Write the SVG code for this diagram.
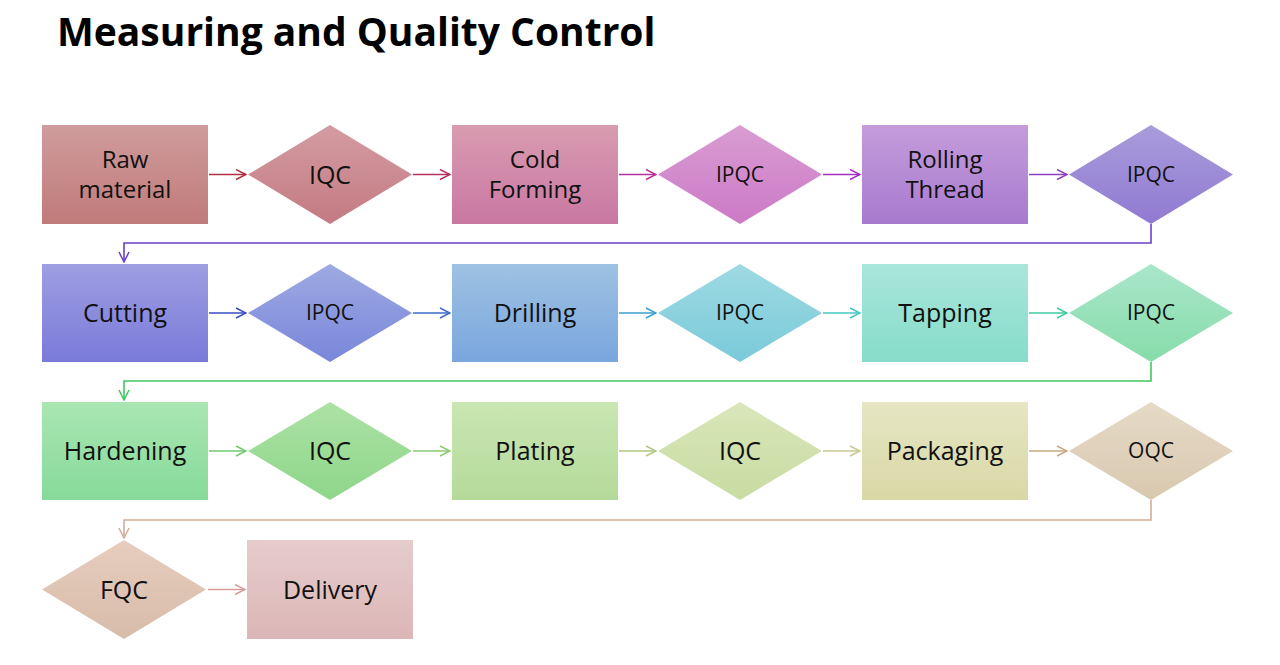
<svg xmlns="http://www.w3.org/2000/svg" width="1280" height="665" viewBox="0 0 1280 665">
<style>
text{font-family:"Open Sans","Noto Sans",sans-serif;fill:#111;text-anchor:middle;dominant-baseline:central}
.b{font-size:25px}.t{font-size:24px}.s{font-size:21px}
.c{fill:none;stroke-width:1.6}
</style>
<defs>
<marker id="m" viewBox="0 0 12 12" refX="11" refY="6" markerWidth="12" markerHeight="12" markerUnits="userSpaceOnUse" orient="auto"><path d="M1 1L11 6L1 11" fill="none" stroke="context-stroke" stroke-width="1.5"/></marker>
<linearGradient id="g1" x1="0" y1="0" x2="0" y2="1"><stop offset="0" stop-color="#d09c9c"/><stop offset="1" stop-color="#c07a7a"/></linearGradient>
<linearGradient id="g2" x1="0" y1="0" x2="0" y2="1"><stop offset="0" stop-color="#d39ca2"/><stop offset="1" stop-color="#c47a82"/></linearGradient>
<linearGradient id="g3" x1="0" y1="0" x2="0" y2="1"><stop offset="0" stop-color="#d99cb0"/><stop offset="1" stop-color="#c977a2"/></linearGradient>
<linearGradient id="g4" x1="0" y1="0" x2="0" y2="1"><stop offset="0" stop-color="#d99cd2"/><stop offset="1" stop-color="#cc7ac6"/></linearGradient>
<linearGradient id="g5" x1="0" y1="0" x2="0" y2="1"><stop offset="0" stop-color="#c49cdb"/><stop offset="1" stop-color="#a87acf"/></linearGradient>
<linearGradient id="g6" x1="0" y1="0" x2="0" y2="1"><stop offset="0" stop-color="#a99cdb"/><stop offset="1" stop-color="#907ad2"/></linearGradient>
<linearGradient id="g7" x1="0" y1="0" x2="0" y2="1"><stop offset="0" stop-color="#9e9ee2"/><stop offset="1" stop-color="#7a7ada"/></linearGradient>
<linearGradient id="g8" x1="0" y1="0" x2="0" y2="1"><stop offset="0" stop-color="#9eaae2"/><stop offset="1" stop-color="#7a86da"/></linearGradient>
<linearGradient id="g9" x1="0" y1="0" x2="0" y2="1"><stop offset="0" stop-color="#9ec2e2"/><stop offset="1" stop-color="#7aa6de"/></linearGradient>
<linearGradient id="g10" x1="0" y1="0" x2="0" y2="1"><stop offset="0" stop-color="#9edae2"/><stop offset="1" stop-color="#7acada"/></linearGradient>
<linearGradient id="g11" x1="0" y1="0" x2="0" y2="1"><stop offset="0" stop-color="#aae6da"/><stop offset="1" stop-color="#86dcca"/></linearGradient>
<linearGradient id="g12" x1="0" y1="0" x2="0" y2="1"><stop offset="0" stop-color="#aae6ca"/><stop offset="1" stop-color="#86dcaa"/></linearGradient>
<linearGradient id="g13" x1="0" y1="0" x2="0" y2="1"><stop offset="0" stop-color="#aae6b2"/><stop offset="1" stop-color="#86da9a"/></linearGradient>
<linearGradient id="g14" x1="0" y1="0" x2="0" y2="1"><stop offset="0" stop-color="#ace2a4"/><stop offset="1" stop-color="#8ed68a"/></linearGradient>
<linearGradient id="g15" x1="0" y1="0" x2="0" y2="1"><stop offset="0" stop-color="#cae6b2"/><stop offset="1" stop-color="#b4da9a"/></linearGradient>
<linearGradient id="g16" x1="0" y1="0" x2="0" y2="1"><stop offset="0" stop-color="#dae6ba"/><stop offset="1" stop-color="#c8dca2"/></linearGradient>
<linearGradient id="g17" x1="0" y1="0" x2="0" y2="1"><stop offset="0" stop-color="#e6e6c4"/><stop offset="1" stop-color="#d8d8a6"/></linearGradient>
<linearGradient id="g18" x1="0" y1="0" x2="0" y2="1"><stop offset="0" stop-color="#e6dac8"/><stop offset="1" stop-color="#d8c8ae"/></linearGradient>
<linearGradient id="g19" x1="0" y1="0" x2="0" y2="1"><stop offset="0" stop-color="#e6cdbe"/><stop offset="1" stop-color="#d8bcaa"/></linearGradient>
<linearGradient id="g20" x1="0" y1="0" x2="0" y2="1"><stop offset="0" stop-color="#e6cccc"/><stop offset="1" stop-color="#dcb6b6"/></linearGradient>
</defs>
<rect width="1280" height="665" fill="#fff"/>
<text x="57" y="30" style="font-size:39px;font-weight:bold;text-anchor:start;fill:#000">Measuring and Quality Control</text>
<g id="connectors">
<path class="c" stroke="#b03040" d="M209 174.5H246" marker-end="url(#m)"/>
<path class="c" stroke="#b83060" d="M413 174.5H450" marker-end="url(#m)"/>
<path class="c" stroke="#b8309a" d="M619 174.5H656" marker-end="url(#m)"/>
<path class="c" stroke="#a430c0" d="M823 174.5H860" marker-end="url(#m)"/>
<path class="c" stroke="#8f3fc0" d="M1029 174.5H1067" marker-end="url(#m)"/>
<path class="c" stroke="#6a40c8" d="M1151 224V243H124V262" marker-end="url(#m)"/>
<path class="c" stroke="#3a4cc0" d="M209 313H246" marker-end="url(#m)"/>
<path class="c" stroke="#3a6cc8" d="M413 313H450" marker-end="url(#m)"/>
<path class="c" stroke="#3aa0d0" d="M619 313H656" marker-end="url(#m)"/>
<path class="c" stroke="#40c8c0" d="M823 313H860" marker-end="url(#m)"/>
<path class="c" stroke="#40c8a0" d="M1029 313H1067" marker-end="url(#m)"/>
<path class="c" stroke="#40c860" d="M1151 362V381H124V400" marker-end="url(#m)"/>
<path class="c" stroke="#70c870" d="M209 451H246" marker-end="url(#m)"/>
<path class="c" stroke="#8cc870" d="M413 451H450" marker-end="url(#m)"/>
<path class="c" stroke="#b0c880" d="M619 451H656" marker-end="url(#m)"/>
<path class="c" stroke="#c8c890" d="M823 451H860" marker-end="url(#m)"/>
<path class="c" stroke="#c8aa80" d="M1029 451H1067" marker-end="url(#m)"/>
<path class="c" stroke="#d4ac98" d="M1151 500V520H124V538" marker-end="url(#m)"/>
<path class="c" stroke="#d89c9c" d="M208 589.5H245" marker-end="url(#m)"/>
</g>
<g id="n1"><rect x="42" y="125" width="166" height="99" fill="url(#g1)"/><text class="t" x="125" y="158">Raw</text><text class="t" x="125" y="188">material</text></g>
<g id="n2"><polygon points="248,174.5 330,125 412,174.5 330,224" fill="url(#g2)"/><text class="b" x="330" y="173.5">IQC</text></g>
<g id="n3"><rect x="452" y="125" width="166" height="99" fill="url(#g3)"/><text class="t" x="535" y="158">Cold</text><text class="t" x="535" y="188">Forming</text></g>
<g id="n4"><polygon points="658,174.5 740,125 822,174.5 740,224" fill="url(#g4)"/><text class="s" x="740" y="173.5">IPQC</text></g>
<g id="n5"><rect x="862" y="125" width="166" height="99" fill="url(#g5)"/><text class="t" x="945" y="158">Rolling</text><text class="t" x="945" y="188">Thread</text></g>
<g id="n6"><polygon points="1069,174.5 1151,125 1233,174.5 1151,224" fill="url(#g6)"/><text class="s" x="1151" y="173.5">IPQC</text></g>
<g id="n7"><rect x="42" y="264" width="166" height="98" fill="url(#g7)"/><text class="b" x="125" y="312">Cutting</text></g>
<g id="n8"><polygon points="248,313 330,264 412,313 330,362" fill="url(#g8)"/><text class="s" x="330" y="312">IPQC</text></g>
<g id="n9"><rect x="452" y="264" width="166" height="98" fill="url(#g9)"/><text class="b" x="535" y="312">Drilling</text></g>
<g id="n10"><polygon points="658,313 740,264 822,313 740,362" fill="url(#g10)"/><text class="s" x="740" y="312">IPQC</text></g>
<g id="n11"><rect x="862" y="264" width="166" height="98" fill="url(#g11)"/><text class="b" x="945" y="312">Tapping</text></g>
<g id="n12"><polygon points="1069,313 1151,264 1233,313 1151,362" fill="url(#g12)"/><text class="s" x="1151" y="312">IPQC</text></g>
<g id="n13"><rect x="42" y="402" width="166" height="98" fill="url(#g13)"/><text class="b" x="125" y="450">Hardening</text></g>
<g id="n14"><polygon points="248,451 330,402 412,451 330,500" fill="url(#g14)"/><text class="b" x="330" y="450">IQC</text></g>
<g id="n15"><rect x="452" y="402" width="166" height="98" fill="url(#g15)"/><text class="b" x="535" y="450">Plating</text></g>
<g id="n16"><polygon points="658,451 740,402 822,451 740,500" fill="url(#g16)"/><text class="b" x="740" y="450">IQC</text></g>
<g id="n17"><rect x="862" y="402" width="166" height="98" fill="url(#g17)"/><text class="b" x="945" y="450">Packaging</text></g>
<g id="n18"><polygon points="1069,451 1151,402 1233,451 1151,500" fill="url(#g18)"/><text class="s" x="1151" y="450">OQC</text></g>
<g id="n19"><polygon points="42,589.5 124,540 206,589.5 124,639" fill="url(#g19)"/><text class="b" x="124" y="588.5">FQC</text></g>
<g id="n20"><rect x="247" y="540" width="166" height="99" fill="url(#g20)"/><text class="b" x="330" y="588.5">Delivery</text></g>
</svg>
